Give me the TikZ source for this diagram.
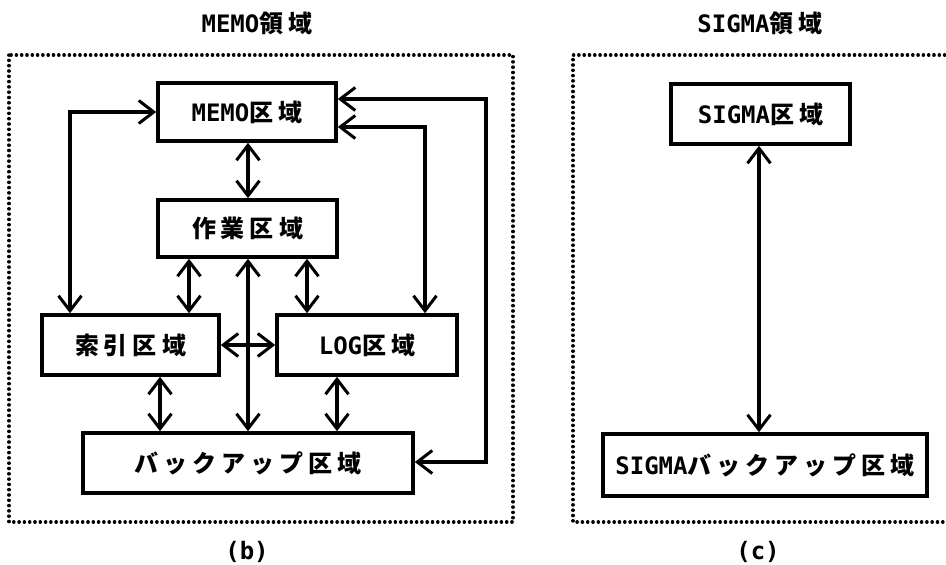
\documentclass[tikz,border=0pt]{standalone}
\usepackage{fontspec}
\usetikzlibrary{arrows.meta}
\newfontfamily\cjk{Noto Sans CJK JP}
\newfontfamily\lat{DejaVu Sans Mono}
\newcommand\J[1]{{\cjk\bfseries #1}}
\newcommand\La[1]{{\lat\bfseries #1}}
\newcommand\gp{\kern5pt}
\begin{document}
\begin{tikzpicture}[x=1pt,y=-1pt,
  every node/.style={font=\fontsize{24}{28}\selectfont},
  area/.style={draw,line width=3.6pt,rectangle,inner sep=0pt,minimum height=58pt},
  vtip/.tip={Straight Barb[length=15pt,width=23pt,line width=3pt]},
  dbl/.style={line width=3.4pt,vtip-vtip},
  region/.style={line width=3.4pt,line cap=round,dash pattern=on 0.2pt off 5.1pt},
  ttl/.style={inner sep=0pt}]
\useasboundingbox (0,0) rectangle (946,565);
% region frames
\draw[region] (9,55) rectangle (513,522);
\draw[region] (950,55) -- (573,55) -- (573,522) -- (950,522);
% titles
\node[ttl] (t1) at (257,23) {\La{MEMO}\J{領\gp 域}};
\node[ttl] (t2) at (760,23) {\La{SIGMA}\J{領\gp 域}};
\node[ttl] (cb) at (247,552) {\La{(b)}};
\node[ttl] (cc) at (758,552) {\La{(c)}};
% boxes
\node[area,minimum width=178pt] (memo) at (247,112) {\La{MEMO}\J{区\gp 域}};
\node[area,minimum width=179pt,minimum height=57pt] (work) at (247.5,228.5) {\J{作\gp 業\gp 区\gp 域}};
\node[area,minimum width=177pt,minimum height=60pt] (idx) at (130.5,345) {\J{索\gp 引\gp 区\gp 域}};
\node[area,minimum width=180pt,minimum height=60pt] (log) at (367,345) {\La{LOG}\J{区\gp 域}};
\node[area,minimum width=330pt,minimum height=60pt] (bak) at (248,463) {\J{バ\gp ッ\gp ク\gp ア\gp ッ\gp プ\gp 区\gp 域}};
\node[area,minimum width=179pt,minimum height=60pt] (sig) at (760.5,114) {\La{SIGMA}\J{区\gp 域}};
\node[area,minimum width=324pt,minimum height=62pt] (sbak) at (765,465) {\La{SIGMA}\J{バ\gp ッ\gp ク\gp ア\gp ッ\gp プ\gp 区\gp 域}};
% helper coordinates
\coordinate (xL) at (70,0);
\coordinate (xA) at (189,0);
\coordinate (xM) at (248,0);
\coordinate (xB) at (307,0);
\coordinate (xC) at (160,0);
\coordinate (xD) at (337,0);
\coordinate (xR1) at (425,0);
\coordinate (xR2) at (486,0);
\coordinate (yR1) at (0,127);
\coordinate (yR2) at (0,99);
\coordinate (ybk) at (0,462);
\coordinate (xS) at (759,0);
% connectors
\draw[dbl] (memo.south -| xM) -- (work.north -| xM);
\draw[dbl] (memo.west) -| (idx.north -| xL);
\draw[dbl] (work.south -| xA) -- (idx.north -| xA);
\draw[dbl] (work.south -| xB) -- (log.north -| xB);
\draw[dbl] (work.south -| xM) -- (bak.north -| xM);
\draw[dbl] (idx.east) -- (log.west);
\draw[dbl] (idx.south -| xC) -- (bak.north -| xC);
\draw[dbl] (log.south -| xD) -- (bak.north -| xD);
\draw[dbl] (memo.east |- yR1) -| (log.north -| xR1);
\draw[dbl] (memo.east |- yR2) -| (xR2 |- ybk) -- (bak.east |- ybk);
\draw[dbl] (sig.south -| xS) -- (sbak.north -| xS);
\end{tikzpicture}
\end{document}
